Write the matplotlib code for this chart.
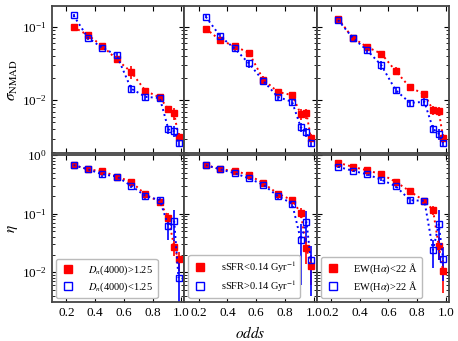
import numpy as np
import matplotlib
matplotlib.use('Agg')
import matplotlib.pyplot as plt
from matplotlib.lines import Line2D

plt.rcParams['font.family'] = ['Liberation Serif', 'DejaVu Serif']
plt.rcParams['mathtext.fontset'] = 'stix'

odds = [0.25, 0.35, 0.45, 0.55, 0.65, 0.75, 0.85, 0.91, 0.95, 0.98]

# sigma_NMAD, red = first label, blue = second label
sig_red = {
    'dn':   [0.099, 0.0766, 0.0548, 0.0358, 0.0243, 0.0134, 0.0109, 0.0075, 0.0066, 0.0032],
    'ssfr': [0.094, 0.0655, 0.0543, 0.044, 0.0191, 0.013, 0.0117, 0.0065, 0.0066, 0.0031],
    'ew':   [0.129, 0.071, 0.053, 0.043, 0.025, 0.0149, 0.0121, 0.0073, 0.0071, 0.0031],
}
sig_red_err = {
    'dn':   [0.004, 0.007, 0.004, 0.004, 0.005, 0.0012, 0.0012, 0.0009, 0.0012, 0.0004],
    'ssfr': [0.004, 0.004, 0.004, 0.003, 0.002, 0.0012, 0.0012, 0.0012, 0.0010, 0.0004],
    'ew':   [0.005, 0.004, 0.004, 0.003, 0.003, 0.0012, 0.0012, 0.0010, 0.0010, 0.0004],
}
sig_blue = {
    'dn':   [0.142, 0.0705, 0.0515, 0.041, 0.0144, 0.0111, 0.0107, 0.0040, 0.0038, 0.0026],
    'ssfr': [0.136, 0.074, 0.0505, 0.0316, 0.0183, 0.0111, 0.0095, 0.0043, 0.0037, 0.0026],
    'ew':   [0.123, 0.071, 0.048, 0.030, 0.0137, 0.0092, 0.0095, 0.0041, 0.0035, 0.0026],
}
sig_blue_err = {
    'dn':   [0.006, 0.005, 0.004, 0.003, 0.0015, 0.001, 0.001, 0.0005, 0.0006, 0.0003],
    'ssfr': [0.006, 0.005, 0.004, 0.004, 0.002, 0.0012, 0.001, 0.0006, 0.0005, 0.0003],
    'ew':   [0.005, 0.004, 0.004, 0.004, 0.0012, 0.001, 0.0012, 0.0005, 0.0006, 0.0003],
}

# eta (outlier fraction)
eta_red = {
    'dn':   [0.675, 0.57, 0.53, 0.43, 0.35, 0.213, 0.158, 0.084, 0.027, 0.0166],
    'ssfr': [0.68, 0.57, 0.54, 0.455, 0.33, 0.22, 0.17, 0.103, 0.026, 0.013],
    'ew':   [0.74, 0.63, 0.55, 0.47, 0.35, 0.24, 0.165, 0.115, 0.028, 0.0104],
}
eta_red_err = {
    'dn':   [0.02, 0.02, 0.05, 0.02, 0.03, 0.02, 0.02, 0.02, 0.008, 0.006],
    'ssfr': [0.02, 0.02, 0.03, 0.02, 0.03, 0.02, 0.02, 0.02, 0.012, 0.007],
    'ew':   [0.02, 0.02, 0.03, 0.02, 0.03, 0.02, 0.02, 0.02, 0.012, 0.006],
}
eta_blue = {
    'dn':   [0.675, 0.57, 0.47, 0.43, 0.30, 0.20, 0.17, 0.061, 0.074, 0.0080],
    'ssfr': [0.67, 0.57, 0.49, 0.40, 0.31, 0.20, 0.149, 0.036, 0.072, 0.016],
    'ew':   [0.63, 0.54, 0.47, 0.38, 0.295, 0.17, 0.165, 0.024, 0.066, 0.017],
}
eta_blue_err = {
    'dn':   [0.02, 0.02, 0.04, 0.02, 0.03, 0.02, 0.025, 0.025, 0.04, 0.007],
    'ssfr': [0.02, 0.02, 0.03, 0.02, 0.02, 0.02, 0.02, 0.03, 0.04, 0.012],
    'ew':   [0.02, 0.02, 0.03, 0.02, 0.02, 0.02, 0.02, 0.012, 0.05, 0.01],
}

keys = ['dn', 'ssfr', 'ew']
red_labels = [r'$D_n$(4000)>1.25', r'sSFR<0.14 Gyr$^{-1}$', r'EW(H$\alpha$)<22 Å']
blue_labels = [r'$D_n$(4000)<1.25', r'sSFR>0.14 Gyr$^{-1}$', r'EW(H$\alpha$)>22 Å']

fig, axes = plt.subplots(2, 3, figsize=(4.58, 3.41), dpi=100, sharex=True)
plt.subplots_adjust(left=0.1135, right=0.980, top=0.982, bottom=0.114,
                    wspace=0.0, hspace=0.012)

for row, (red, rerr, blue, berr) in enumerate([(sig_red, sig_red_err, sig_blue, sig_blue_err),
                                               (eta_red, eta_red_err, eta_blue, eta_blue_err)]):
    for col, k in enumerate(keys):
        ax = axes[row, col]
        ax.errorbar(odds, red[k], yerr=rerr[k], fmt='s', ls=':', color='red',
                    ms=5, lw=1.4, elinewidth=1.2, capsize=0)
        ax.errorbar(odds, blue[k], yerr=berr[k], fmt='s', ls=':', color='blue',
                    mfc='none', mec='blue', mew=1.0, ms=5, lw=1.4, elinewidth=1.2,
                    capsize=0)
        ax.set_yscale('log')
        ax.set_xlim(0.1, 1.02)
        if row == 0:
            ax.set_ylim(1.9e-3, 0.19)
        else:
            ax.set_ylim(3.1e-3, 1.0)
            handles = [Line2D([], [], ls='none', marker='s', color='red', ms=5.5),
                       Line2D([], [], ls='none', marker='s', mfc='none', mec='blue',
                              mew=1.0, ms=5.5)]
            ax.legend(handles, [red_labels[col], blue_labels[col]], loc='lower left',
                      fontsize=7.5, handlelength=1.5, handletextpad=1.2,
                      labelspacing=0.35, borderpad=0.4, borderaxespad=0.4,
                      edgecolor='#bbbbbb', framealpha=1)
        ax.set_xticks([0.2, 0.4, 0.6, 0.8, 1.0])
        ax.set_xticklabels(['0.2', '0.4', '0.6', '0.8', '1.0'])
        ax.tick_params(which='both', direction='in', top=True, right=True, labelsize=9.5)
        ax.tick_params(which='major', length=3.5)
        ax.tick_params(which='minor', length=2)
        if col > 0:
            ax.tick_params(labelleft=False)
        for s in ax.spines.values():
            s.set_linewidth(1.3)
            s.set_color('#444444')

axes[0, 0].set_ylabel(r'$\sigma_{\rm NMAD}$', fontsize=11, labelpad=2)
axes[1, 0].set_ylabel(r'$\eta$', fontsize=11, labelpad=2)
axes[1, 1].set_xlabel(r'$odds$', fontsize=11, labelpad=4)

plt.savefig('out.png', dpi=100)
